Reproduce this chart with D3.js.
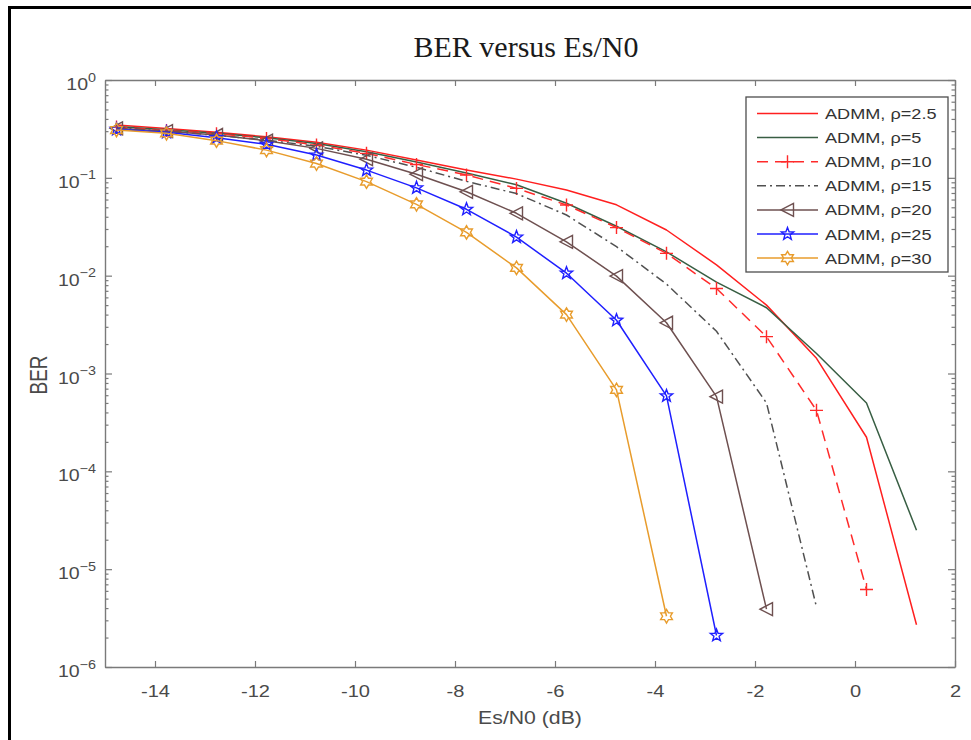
<!DOCTYPE html>
<html>
<head>
<meta charset="utf-8">
<script src="https://cdn.jsdelivr.net/npm/d3@7"></script>
<style>
  body { margin: 0; background: #fff; }
  svg { display: block; font-family: "Liberation Sans", Arial, sans-serif; }
</style>
</head>
<body>
<svg id="chart" width="971" height="740"></svg>
<script>
// Es/N0 sample points (dB)
const esn0 = [-14.77, -13.77, -12.77, -11.77, -10.77, -9.77, -8.77, -7.77, -6.77,
              -5.77, -4.77, -3.77, -2.77, -1.77, -0.77, 0.23, 1.23];

// Bit error rate for each penalty parameter rho
const berRho2_5 = [0.347, 0.32, 0.292, 0.263, 0.231, 0.192, 0.152, 0.12, 0.097,
                   0.075, 0.053, 0.0293, 0.0129, 0.005, 0.00143, 0.000223, 0.0000027];
const berRho5   = [0.335, 0.31, 0.285, 0.257, 0.224, 0.185, 0.145, 0.112, 0.085,
                   0.055, 0.032, 0.0175, 0.0086, 0.0047, 0.0016, 0.0005, 0.000025];
const berRho10  = [0.33, 0.305, 0.283, 0.253, 0.217, 0.178, 0.137, 0.107, 0.078,
                   0.0528, 0.031, 0.0169, 0.0074, 0.00238, 0.00042, 0.0000062];
const berRho15  = [0.325, 0.30, 0.272, 0.243, 0.21, 0.17, 0.128, 0.092, 0.069,
                   0.0417, 0.0198, 0.0082, 0.0027, 0.0005, 0.0000041];
const berRho20  = [0.321, 0.30, 0.274, 0.24, 0.20, 0.155, 0.109, 0.072, 0.0434,
                   0.0222, 0.0099, 0.0033, 0.00058, 0.0000039];
const berRho25  = [0.313, 0.292, 0.257, 0.22, 0.171, 0.12, 0.079, 0.0477, 0.0248,
                   0.0106, 0.0035, 0.00059, 0.0000021];
const berRho30  = [0.308, 0.285, 0.24, 0.192, 0.14, 0.0914, 0.0536, 0.0277, 0.012,
                   0.004, 0.00068, 0.0000033];

const seriesLabels = ["ADMM, ρ=2.5", "ADMM, ρ=5", "ADMM, ρ=10", "ADMM, ρ=15",
                      "ADMM, ρ=20", "ADMM, ρ=25", "ADMM, ρ=30"];
const xTicks = [-14, -12, -10, -8, -6, -4, -2, 0, 2];
const yTicks = [1, 1e-1, 1e-2, 1e-3, 1e-4, 1e-5, 1e-6];
const yTickExponents = ["0", "-1", "-2", "-3", "-4", "-5", "-6"];

const titleText = "BER versus Es/N0";
const xLabelText = "Es/N0 (dB)";
const yLabelText = "BER";

// Line and marker styling per series
const styles = [
  { color: "#ff1f1f", dash: null,        marker: null },
  { color: "#385e43", dash: null,        marker: null },
  { color: "#ff2a2a", dash: "11,7",      marker: "plus" },
  { color: "#505050", dash: "9,4,2,4",   marker: null },
  { color: "#6e5050", dash: null,        marker: "triLeft" },
  { color: "#1f1fff", dash: null,        marker: "star5" },
  { color: "#e89c2c", dash: null,        marker: "star6" }
];
const seriesData = [berRho2_5, berRho5, berRho10, berRho15, berRho20, berRho25, berRho30];

const svg = d3.select("#chart");
const W = 971, H = 740;
const plot = { left: 105, right: 955, top: 80, bottom: 667 };
const axisColor = "#7a7a7a";
const labelColor = "#4a4a4a";
const sans = "'Liberation Sans', Arial, sans-serif";
const serif = "'Liberation Serif', 'Times New Roman', serif";

svg.append("rect").attr("width", W).attr("height", H).attr("fill", "#fff");

// outer figure frame (top and left edges visible)
svg.append("path")
  .attr("d", `M9.5,${H} V7.5 H${W}`)
  .attr("fill", "none").attr("stroke", "#000").attr("stroke-width", 3);

const x = d3.scaleLinear().domain([-15, 2]).range([plot.left, plot.right]);
const y = d3.scaleLog().domain([1e-6, 1]).range([plot.bottom, plot.top]);

// minor log ticks 2..9 within each decade
const minorTicks = [];
for (let e = -6; e < 0; e++) {
  for (let m = 2; m <= 9; m++) minorTicks.push(m * Math.pow(10, e));
}

function styleAxis(g) {
  g.attr("font-family", sans);
  g.select(".domain").attr("stroke", axisColor).attr("stroke-width", 1.4);
  g.selectAll(".tick line").attr("stroke", axisColor).attr("stroke-width", 1.2);
}

// bottom axis with labels
const gxB = svg.append("g").attr("transform", `translate(0,${plot.bottom})`)
  .call(d3.axisBottom(x).tickValues(xTicks).tickSize(-6).tickSizeOuter(0).tickPadding(18)
    .tickFormat(d => String(d)));
styleAxis(gxB);
gxB.selectAll(".tick text")
  .attr("fill", labelColor).attr("font-size", 17)
  .attr("transform", "scale(1.18,1)");

// top axis (ticks only)
const gxT = svg.append("g").attr("transform", `translate(0,${plot.top})`)
  .call(d3.axisTop(x).tickValues(xTicks).tickSize(-6).tickSizeOuter(0).tickFormat(""));
styleAxis(gxT);

// left axis with power-of-ten labels
const gyL = svg.append("g").attr("transform", `translate(${plot.left},0)`)
  .call(d3.axisLeft(y).tickValues(yTicks).tickSize(-7).tickSizeOuter(0).tickFormat(""));
styleAxis(gyL);
gyL.selectAll(".tick text").each(function (d, i) {
  const t = d3.select(this);
  t.text("").attr("x", null).attr("dy", null)
    .attr("fill", labelColor).attr("text-anchor", "end")
    .attr("transform", "translate(-9,9.5) scale(1.15,1)");
  t.append("tspan").attr("font-size", 17).text("10");
  t.append("tspan").attr("font-size", 12.5).attr("dy", -8.5)
    .text(yTickExponents[i].replace("-", "\u2212"));
});
const gyLm = svg.append("g").attr("transform", `translate(${plot.left},0)`)
  .call(d3.axisLeft(y).tickValues(minorTicks).tickSize(-3.5).tickSizeOuter(0).tickFormat(""));
styleAxis(gyLm);
gyLm.select(".domain").remove();

// right axis (ticks only)
const gyR = svg.append("g").attr("transform", `translate(${plot.right},0)`)
  .call(d3.axisRight(y).tickValues(yTicks).tickSize(-7).tickSizeOuter(0).tickFormat(""));
styleAxis(gyR);
const gyRm = svg.append("g").attr("transform", `translate(${plot.right},0)`)
  .call(d3.axisRight(y).tickValues(minorTicks).tickSize(-3.5).tickSizeOuter(0).tickFormat(""));
styleAxis(gyRm);
gyRm.select(".domain").remove();

// marker shapes
function markerPath(kind) {
  if (kind === "plus") return "M-6.5,0H6.5M0,-6.5V6.5";
  if (kind === "triLeft") return "M-6.5,0L6,-6.5L6,6.5Z";
  const pts = [];
  if (kind === "star5") {
    const R = 6.5, r = R * 0.42;
    for (let k = 0; k < 10; k++) {
      const a = -Math.PI / 2 + k * Math.PI / 5;
      const rad = k % 2 === 0 ? R : r;
      pts.push([rad * Math.cos(a), rad * Math.sin(a)]);
    }
  } else if (kind === "star6") {
    const R = 6.8, r = R / Math.sqrt(3);
    for (let k = 0; k < 12; k++) {
      const a = -Math.PI / 2 + k * Math.PI / 6;
      const rad = k % 2 === 0 ? R : r;
      pts.push([rad * Math.cos(a), rad * Math.sin(a)]);
    }
  }
  return "M" + pts.map(p => p[0].toFixed(2) + "," + p[1].toFixed(2)).join("L") + "Z";
}

const line = d3.line().x(d => x(d[0])).y(d => y(d[1]));
const plotG = svg.append("g");

seriesData.forEach((vals, i) => {
  const st = styles[i];
  const pts = vals.map((v, k) => [esn0[k], v]);
  plotG.append("path")
    .datum(pts)
    .attr("d", line)
    .attr("fill", "none")
    .attr("stroke", st.color)
    .attr("stroke-width", 1.5)
    .attr("stroke-dasharray", st.dash)
    .attr("stroke-linejoin", "round");
  if (st.marker) {
    plotG.append("g").selectAll("path").data(pts).join("path")
      .attr("transform", d => `translate(${x(d[0])},${y(d[1])})`)
      .attr("d", markerPath(st.marker))
      .attr("fill", "none")
      .attr("stroke", st.color)
      .attr("stroke-width", 1.4)
      .attr("stroke-linejoin", "miter");
  }
});

// legend
const legend = { x: 746, y: 97, w: 202, h: 175, rowTop: 113.5, rowGap: 24.1 };
const lg = svg.append("g");
lg.append("rect")
  .attr("x", legend.x).attr("y", legend.y).attr("width", legend.w).attr("height", legend.h)
  .attr("fill", "#fff").attr("stroke", "#4d4d4d").attr("stroke-width", 1.3);
seriesLabels.forEach((lab, i) => {
  const st = styles[i];
  const yy = legend.rowTop + i * legend.rowGap;
  lg.append("line")
    .attr("x1", 757).attr("x2", 818).attr("y1", yy).attr("y2", yy)
    .attr("stroke", st.color).attr("stroke-width", 1.5)
    .attr("stroke-dasharray", st.dash);
  if (st.marker) {
    lg.append("path")
      .attr("transform", `translate(787.5,${yy})`)
      .attr("d", markerPath(st.marker))
      .attr("fill", "none").attr("stroke", st.color).attr("stroke-width", 1.4);
  }
  lg.append("text")
    .attr("transform", `translate(825,${yy + 5.5}) scale(1.17,1)`)
    .attr("font-family", sans)
    .attr("font-size", 15.5).attr("fill", "#333")
    .text(lab);
});

// title and axis labels
svg.append("text")
  .attr("x", 526).attr("y", 57)
  .attr("text-anchor", "middle")
  .attr("font-family", serif)
  .attr("font-size", 30).attr("fill", "#1a1a1a")
  .text(titleText);

svg.append("text")
  .attr("transform", "translate(530,724) scale(1.18,1)")
  .attr("text-anchor", "middle")
  .attr("font-family", sans)
  .attr("font-size", 18).attr("fill", labelColor)
  .text(xLabelText);

svg.append("text")
  .attr("transform", "translate(47,375) rotate(-90) scale(1,1.25)")
  .attr("text-anchor", "middle")
  .attr("font-family", sans)
  .attr("font-size", 19).attr("fill", labelColor)
  .text(yLabelText);
</script>
</body>
</html>
